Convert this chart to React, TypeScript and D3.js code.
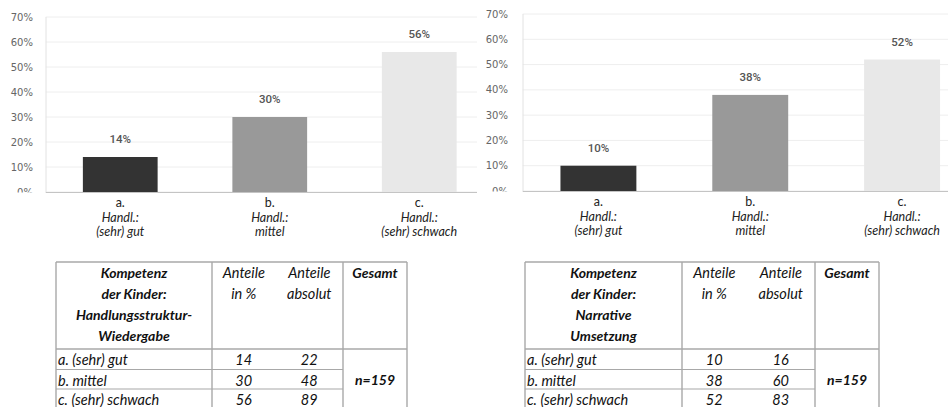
import * as d3 from "d3";

const categories = ["a.", "b.", "c."];
const categorySub = [
  ["Handl.:", "(sehr) gut"],
  ["Handl.:", "mittel"],
  ["Handl.:", "(sehr) schwach"],
];
const structurePct = [14, 30, 56];
const narrativePct = [10, 38, 52];
const yTicks = [0, 10, 20, 30, 40, 50, 60, 70];
const barColors = ["#333333", "#999999", "#e8e8e8"];

const rowLabels = ["a. (sehr) gut", "b. mittel", "c. (sehr) schwach"];
const structureAbs = [22, 48, 89];
const narrativeAbs = [16, 60, 83];
const structureHead = ["Kompetenz", "der Kinder:", "Handlungsstruktur-", "Wiedergabe"];
const narrativeHead = ["Kompetenz", "der Kinder:", "Narrative", "Umsetzung"];
const totalLabel = "n=159";

const tickFont = "'DejaVu Sans', sans-serif";
const valueFont = "Roboto, sans-serif";
const textFont = "Lato, 'Open Sans', sans-serif";

type ChartProps = {
  values: number[];
  x0: number;
  x1: number;
  clipRight: number;
  yTop: number;
  yBottom: number;
  labelRight: number;
  id: string;
};

function BarChart({ values, x0, x1, clipRight, yTop, yBottom, labelRight, id }: ChartProps) {
  const x = d3.scaleBand<string>().domain(categories).range([x0, x1]).paddingInner(0.5).paddingOuter(0.25);
  const y = d3.scaleLinear().domain([0, 70]).range([yBottom, yTop]);

  return (
    <g>
      <clipPath id={id}>
        <rect x={x0} y={0} width={clipRight - x0} height={407} />
      </clipPath>
      <g clipPath={`url(#${id})`}>
        {yTicks.map((t) => (
          <line key={t} x1={x0} x2={clipRight} y1={y(t)} y2={y(t)} stroke="#eeeeee" strokeWidth={1} />
        ))}
        {values.map((v, i) => (
          <rect
            key={i}
            x={x(categories[i])}
            y={y(v)}
            width={x.bandwidth()}
            height={y(0) - y(v)}
            fill={barColors[i]}
          />
        ))}
        <line x1={x0} x2={clipRight} y1={y(0) + 0.5} y2={y(0) + 0.5} stroke="#c4c4c4" strokeWidth={1} />
      </g>
      <line x1={x0 + 0.5} x2={x0 + 0.5} y1={y(70)} y2={y(0)} stroke="#e2e2e2" strokeWidth={1} />
      {yTicks.map((t) => (
        <text
          key={t}
          x={labelRight}
          y={y(t)}
          dy="0.35em"
          textAnchor="end"
          fontFamily={tickFont}
          fontSize={10}
          fill="#666"
        >
          {t}%
        </text>
      ))}
      {/* the 0% label is half covered in the original */}
      <rect x={labelRight - 30} y={y(0) + 0.5} width={32} height={10} fill="#fff" />
      {values.map((v, i) => {
        const cx = (x(categories[i]) ?? 0) + x.bandwidth() / 2;
        return (
          <g key={i}>
            <text
              x={cx}
              y={y(v) - 18}
              dy="0.35em"
              textAnchor="middle"
              fontFamily={valueFont}
              fontSize={11.5}
              fontWeight={500}
              fill="#555"
            >
              {v}%
            </text>
            <text x={cx} y={y(0) + 11} dy="0.35em" textAnchor="middle" fontFamily={textFont} fontSize={12.5} fill="#222">
              {categories[i]}
            </text>
            {categorySub[i].map((s, j) => (
              <text
                key={j}
                x={cx}
                y={y(0) + 25.5 + j * 14}
                dy="0.35em"
                textAnchor="middle"
                fontFamily={textFont}
                fontSize={12.5}
                fontStyle="italic"
                fill="#222"
              >
                {s}
              </text>
            ))}
          </g>
        );
      })}
    </g>
  );
}

type TableProps = {
  cols: number[];
  head: string[];
  pct: number[];
  abs: number[];
};

function DataTable({ cols, head, pct, abs }: TableProps) {
  const top = 262;
  const rowLines = [349, 369.5, 389];
  const bottom = 420;
  const stroke = "#a8a8a8";
  const [c0, c1, c3, c4] = cols;
  const mid = (c1 + c3) / 2;
  const pctX = (c1 + mid) / 2 - 1;
  const absX = (mid + c3) / 2 - 1;
  const rowY = rowLines.map((l) => l + 11);
  return (
    <g fontFamily={textFont} fontSize={14.5} fill="#111">
      <line x1={c0} x2={c4} y1={top} y2={top} stroke={stroke} strokeWidth={1.4} />
      {rowLines.map((l, i) => (
        <line key={i} x1={c0} x2={i === 0 ? c4 : c3} y1={l} y2={l} stroke={stroke} strokeWidth={i === 0 ? 1.4 : 1.2} />
      ))}
      {[c0, c1, c3, c4].map((cx, i) => (
        <line key={i} x1={cx} x2={cx} y1={top} y2={bottom} stroke={stroke} strokeWidth={1.4} />
      ))}
      {head.map((h, i) => (
        <text key={i} x={(c0 + c1) / 2} y={273 + i * 21} dy="0.35em" textAnchor="middle" fontWeight="bold" fontStyle="italic" fontSize={14}>
          {h}
        </text>
      ))}
      <text x={pctX} y={273} dy="0.35em" textAnchor="middle" fontStyle="italic">Anteile</text>
      <text x={pctX} y={294} dy="0.35em" textAnchor="middle" fontStyle="italic">in %</text>
      <text x={absX} y={273} dy="0.35em" textAnchor="middle" fontStyle="italic">Anteile</text>
      <text x={absX} y={294} dy="0.35em" textAnchor="middle" fontStyle="italic">absolut</text>
      <text x={(c3 + c4) / 2} y={273} dy="0.35em" textAnchor="middle" fontWeight="bold" fontStyle="italic" fontSize={14}>Gesamt</text>
      {rowLabels.map((r, i) => (
        <g key={i}>
          <text x={c0 + 2} y={rowY[i]} dy="0.35em" fontStyle="italic">{r}</text>
          <text x={pctX} y={rowY[i]} dy="0.35em" textAnchor="middle" fontStyle="italic">{pct[i]}</text>
          <text x={absX} y={rowY[i]} dy="0.35em" textAnchor="middle" fontStyle="italic">{abs[i]}</text>
        </g>
      ))}
      <text x={(c3 + c4) / 2} y={rowY[1]} dy="0.35em" textAnchor="middle" fontWeight="bold" fontStyle="italic" fontSize={14}>
        {totalLabel}
      </text>
    </g>
  );
}

export default function App() {
  return (
    <svg
      width={948}
      height={407}
      style={{ position: "absolute", left: 0, top: 0, background: "#fff" }}
    >
      <rect width={948} height={407} fill="#fff" />
      <BarChart values={structurePct} x0={45.5} x1={494} clipRight={477} yTop={17} yBottom={192} labelRight={33} id="clipA" />
      <BarChart values={narrativePct} x0={522.5} x1={978} clipRight={948} yTop={14} yBottom={191} labelRight={508} id="clipB" />
      <DataTable cols={[56, 212, 343, 407]} head={structureHead} pct={structurePct} abs={structureAbs} />
      <DataTable cols={[525, 682, 815, 879]} head={narrativeHead} pct={narrativePct} abs={narrativeAbs} />
    </svg>
  );
}
